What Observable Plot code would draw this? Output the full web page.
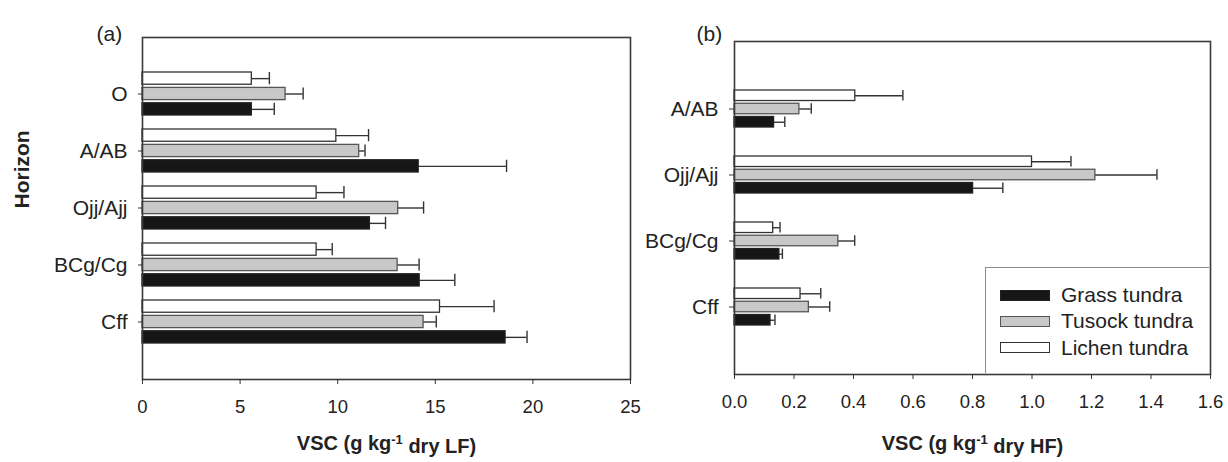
<!DOCTYPE html>
<html><head><meta charset="utf-8">
<script src="https://cdn.jsdelivr.net/npm/d3@7"></script>
<script src="https://cdn.jsdelivr.net/npm/@observablehq/plot@0.6"></script>
<style>
body{margin:0;background:#fff;font-family:"Liberation Sans",Arial,sans-serif;}
#wrap{position:relative;width:1228px;height:462px;overflow:hidden;}
#wrap svg.panel{position:absolute;top:0;}
.legend{position:absolute;background:#fff;border-left:1.3px solid #8a8a8a;border-top:1.3px solid #8a8a8a;box-sizing:border-box;}
.legend .item{position:absolute;display:flex;align-items:center;font-size:21px;color:#222;white-space:nowrap;}
.legend .sw{display:inline-block;box-sizing:border-box;margin-right:11px;}
</style></head><body><div id="wrap"></div>
<script>
// ---- data ----
const series = ["Grass tundra", "Tusock tundra", "Lichen tundra"];
const seriesFill = ["#161616", "#c8c8c8", "#ffffff"];
const seriesStroke = ["#222222", "#555555", "#333333"];

// Panel (a): VSC in LF
const horizonsA = ["O", "A/AB", "Ojj/Ajj", "BCg/Cg", "Cff"];
const lfGrass   = [5.6, 14.15, 11.65, 14.2, 18.6];
const lfGrassSE = [1.15, 4.5, 0.8, 1.8, 1.1];
const lfTusock   = [7.33, 11.1, 13.1, 13.07, 14.4];
const lfTusockSE = [0.9, 0.3, 1.3, 1.1, 0.65];
const lfLichen   = [5.6, 9.93, 8.92, 8.92, 15.24];
const lfLichenSE = [0.9, 1.65, 1.4, 0.8, 2.77];
const ticksA = [0, 5, 10, 15, 20, 25];

// Panel (b): VSC in HF
const horizonsB = ["A/AB", "Ojj/Ajj", "BCg/Cg", "Cff"];
const hfGrass   = [0.133, 0.802, 0.151, 0.121];
const hfGrassSE = [0.036, 0.100, 0.010, 0.015];
const hfTusock   = [0.218, 1.213, 0.349, 0.250];
const hfTusockSE = [0.040, 0.207, 0.055, 0.070];
const hfLichen   = [0.406, 1.000, 0.130, 0.222];
const hfLichenSE = [0.160, 0.131, 0.023, 0.068];
const ticksB = [0, 0.2, 0.4, 0.6, 0.8, 1.0, 1.2, 1.4, 1.6];

function table(horizons, means, ses) {
  const out = [];
  series.forEach((s, si) => horizons.forEach((h, hi) => {
    out.push({horizon: h, series: s, mean: means[si][hi], upper: means[si][hi] + ses[si][hi]});
  }));
  return out;
}

function supTitle(svg, full, before, sup, after) {
  d3.select(svg).selectAll("text").filter(function(){ return this.textContent === full; }).each(function(){
    const t = d3.select(this);
    t.text(null);
    t.append("tspan").text(before);
    t.append("tspan").attr("dy", "-0.45em").attr("font-size", "13px").text(sup);
    t.append("tspan").attr("dy", "0.45em").text(after);
  });
}

function panel(o) {
  const rows = table(o.horizons, o.means, o.ses);
  const n = o.horizons.length;
  const step = (o.height - o.marginTop - o.marginBottom) / (n - o.pi + 2 * o.po);
  const bw = step * (1 - o.pi);
  const barH = bw * 0.29;
  const stride = (bw - barH) / 2;
  const marks = [];
  series.forEach((s, si) => {
    const slot = 2 - si; // Lichen on top, Grass at bottom
    const d = rows.filter(r => r.series === s);
    const it = slot * stride, ib = bw - barH - slot * stride;
    marks.push(Plot.ruleY(d, {y: "horizon", x1: "mean", x2: "upper", dy: it + barH / 2 - bw / 2, stroke: "#333", strokeWidth: 1.4}));
    marks.push(Plot.tickX(d, {x: "upper", y: "horizon", insetTop: it, insetBottom: ib, stroke: "#333", strokeWidth: 1.4}));
    marks.push(Plot.barX(d, {x: "mean", y: "horizon", insetTop: it, insetBottom: ib, fill: seriesFill[si], stroke: seriesStroke[si], strokeWidth: 1.3}));
  });
  marks.push(Plot.frame({stroke: "#3a3a3a", strokeWidth: 1.6}));
  marks.push(Plot.axisX({ticks: o.ticks, tickFormat: o.tickFormat, tickSize: 5, tickPadding: 15, fontSize: 18.5, label: null, stroke: "#333"}));
  marks.push(Plot.axisY({tickSize: o.yTick, tickPadding: 11, fontSize: 21, label: null, stroke: "#333"}));
  marks.push(Plot.text([o.title], {frameAnchor: "bottom", dy: o.titleDy, fontWeight: "bold", fontSize: 20, fill: "#222"}));
  marks.push(Plot.text([o.tag], {frameAnchor: "top-left", dx: o.tagDx, dy: o.tagDy, textAnchor: "start", fontSize: 21, fill: "#222"}));
  if (o.ylabel) marks.push(Plot.text([o.ylabel], {frameAnchor: "left", dx: -120, rotate: -90, fontWeight: "bold", fontSize: 21, fill: "#222"}));
  const svg = Plot.plot({
    width: o.width, height: o.height,
    marginLeft: o.marginLeft, marginRight: o.marginRight, marginTop: o.marginTop, marginBottom: o.marginBottom,
    style: {fontFamily: "'Liberation Sans', Arial, sans-serif", color: "#222", background: "transparent", overflow: "visible"},
    x: {domain: o.xDomain},
    y: {domain: o.horizons, paddingInner: o.pi, paddingOuter: o.po},
    marks
  });
  svg.classList.add("panel");
  svg.style.left = o.left + "px";
  supTitle(svg, o.title, o.titleParts[0], o.titleParts[1], o.titleParts[2]);
  return svg;
}

const wrap = document.getElementById("wrap");

wrap.appendChild(panel({
  left: 0, width: 640, height: 462,
  marginLeft: 142, marginRight: 10, marginTop: 37, marginBottom: 83,
  horizons: horizonsA, means: [lfGrass, lfTusock, lfLichen], ses: [lfGrassSE, lfTusockSE, lfLichenSE],
  xDomain: [0, 25], ticks: ticksA, tickFormat: d3.format("d"),
  pi: 0.24, po: 0.62, yTick: 4,
  title: "VSC (g kg-1 dry LF)", titleParts: ["VSC (g kg", "-1", " dry LF)"], titleDy: 70.5,
  tag: "(a)", tagDx: -46, tagDy: -11, ylabel: "Horizon"
}));

wrap.appendChild(panel({
  left: 640, width: 588, height: 462,
  marginLeft: 94, marginRight: 18, marginTop: 41, marginBottom: 88,
  horizons: horizonsB, means: [hfGrass, hfTusock, hfLichen], ses: [hfGrassSE, hfTusockSE, hfLichenSE],
  xDomain: [0, 1.6], ticks: ticksB, tickFormat: d3.format(".1f"),
  pi: 0.44, po: 0.72, yTick: 5,
  title: "VSC (g kg-1 dry HF)", titleParts: ["VSC (g kg", "-1", " dry HF)"], titleDy: 75.5,
  tag: "(b)", tagDx: -38, tagDy: -15, ylabel: null
}));

// legend (inside panel b, bottom-right)
const legend = document.createElement("div");
legend.className = "legend";
Object.assign(legend.style, {left: "985px", top: "267px", width: "224px", height: "106px"});
series.forEach((s, i) => {
  const item = document.createElement("div");
  item.className = "item";
  item.style.left = "14px";
  item.style.top = (14 + i * 26.4) + "px";
  item.style.height = "26px";
  const sw = document.createElement("span");
  sw.className = "sw";
  Object.assign(sw.style, {width: "50px", height: "11px", background: seriesFill[i], border: "1.3px solid " + seriesStroke[i]});
  item.appendChild(sw);
  item.appendChild(document.createTextNode(s));
  legend.appendChild(item);
});
wrap.appendChild(legend);
</script></body></html>
